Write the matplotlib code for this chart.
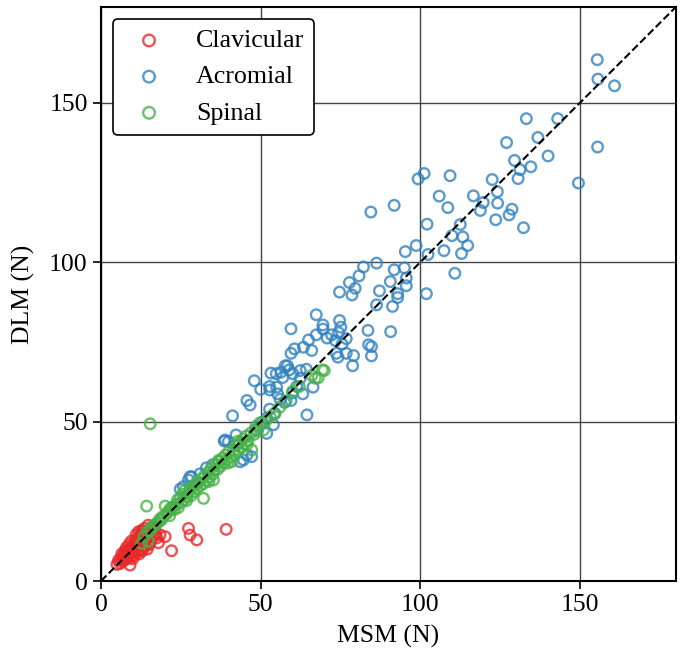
import matplotlib

matplotlib.use("Agg")
import matplotlib.pyplot as plt

plt.rcParams["font.family"] = ["Liberation Serif", "DejaVu Serif"]

# Clavicular (red)
clav_msm = [5.0, 5.5, 6.0, 6.3, 6.8, 7.0, 7.3, 7.6, 7.9, 8.2, 8.5, 8.7, 9.0, 9.1, 9.3,
            9.6, 9.8, 10.0, 10.2, 10.5, 10.7, 11.0, 11.2, 11.5, 11.7, 12.0, 12.2, 12.5,
            12.7, 13.0, 13.3, 13.5, 13.8, 14.0, 14.3, 14.6, 15.0, 15.3, 15.7, 16.0, 16.4,
            16.4, 17.0, 18.0, 20.1, 22.1, 27.4, 27.9, 30.0, 39.2, 10.0, 12.0, 13.0, 11.0,
            8.0, 9.5, 14.5, 15.5, 17.5, 6.5, 7.5, 8.8, 10.8, 11.8, 12.8, 13.6, 14.8, 16.8,
            18.5, 9.2, 10.3, 11.4, 12.4, 13.4, 15.2]
clav_dlm = [5.2, 6.5, 5.5, 7.0, 6.2, 8.0, 7.0, 8.5, 6.8, 9.0, 7.8, 9.8, 8.5, 5.0, 10.2,
            9.0, 11.0, 9.5, 10.8, 12.0, 9.8, 11.2, 12.8, 10.5, 13.5, 11.8, 14.5, 12.5,
            10.0, 13.8, 15.0, 12.0, 14.5, 11.0, 15.5, 13.5, 16.0, 14.2, 15.5, 17.0, 13.9,
            16.5, 15.0, 12.0, 13.9, 9.5, 16.5, 14.4, 12.9, 16.2, 7.0, 8.5, 9.5, 14.5,
            10.5, 12.5, 10.0, 12.5, 13.5, 8.5, 9.5, 11.5, 13.0, 15.5, 15.8, 16.5, 17.5,
            16.0, 14.5, 7.5, 8.0, 9.0, 10.0, 11.0, 11.5]

# Acromial (blue)
acro_msm = [155.4, 155.6, 160.8, 133.2, 143.0, 136.8, 127.0, 155.5, 140.0, 129.5, 134.6,
            131.2, 130.6, 149.5, 122.5, 101.2, 99.3, 109.3, 105.9, 116.6, 108.6, 119.7,
            124.1, 124.2, 118.8, 128.7, 127.8, 123.6, 132.3, 84.5, 91.8, 102.1, 112.5,
            109.9, 113.3, 114.8, 112.9, 107.4, 102.4, 98.7, 95.3, 110.8, 101.9, 86.3,
            82.2, 91.8, 95.0, 80.8, 79.6, 90.6, 95.6, 95.6, 87.2, 92.9, 92.9, 86.3, 91.3,
            78.6, 77.8, 74.7,
            67.4, 59.5, 69.5, 69.5, 74.7, 75.1, 74.4, 83.6, 90.7, 67.4, 70.8, 72.2, 76.8,
            73.4, 75.5, 65.0, 63.4, 66.0, 60.6, 59.5, 73.7, 74.2, 76.8, 79.1, 84.7, 84.7,
            83.8, 78.8, 58.4, 57.7, 58.9, 60.1, 62.4, 64.3, 53.2, 54.9, 56.9, 56.4, 48.0,
            50.0, 52.8, 52.9, 55.0, 55.3, 62.4, 61.3, 63.2, 66.4, 45.7, 46.7, 56.1, 59.5,
            64.5, 41.2, 42.3, 38.6, 39.9, 52.8, 54.3,
            51.9, 54.0, 51.9, 45.7, 47.2, 43.6, 44.6, 38.9, 28.4, 27.4, 25.8, 27.9, 31.0,
            24.8, 48.5, 50.5, 57.5, 60.0, 35.0, 33.0, 42.0]
acro_dlm = [163.5, 157.4, 155.3, 145.0, 145.0, 139.1, 137.5, 136.1, 133.3, 131.9, 129.9,
            129.0, 126.2, 124.8, 125.9, 127.8, 126.1, 127.1, 120.7, 120.8, 117.1, 118.7,
            122.1, 118.5, 116.2, 116.6, 114.8, 113.3, 110.8, 115.7, 117.8, 111.9, 111.8,
            108.3, 107.9, 105.2, 102.7, 103.6, 102.4, 105.2, 103.3, 96.5, 90.1, 99.7,
            98.5, 97.6, 98.2, 95.7, 91.8, 93.9, 95.0, 92.6, 91.0, 90.1, 88.9, 86.6, 86.1,
            89.7, 93.6, 90.6,
            83.5, 79.1, 80.3, 79.0, 81.7, 79.6, 77.9, 78.6, 78.2, 77.2, 76.2, 77.2, 76.0,
            75.4, 74.3, 75.6, 73.3, 72.3, 72.8, 71.4, 71.4, 70.2, 71.4, 70.7, 73.5, 70.6,
            74.1, 67.5, 67.5, 67.5, 66.2, 65.0, 66.0, 66.4, 65.2, 65.0, 63.8, 65.5, 62.8,
            60.1, 61.0, 59.9, 60.8, 58.7, 63.6, 61.0, 58.7, 60.8, 56.6, 55.2, 57.0, 56.6,
            52.1, 51.8, 45.8, 43.9, 43.7, 53.9, 52.6,
            51.1, 49.0, 46.3, 39.5, 39.0, 37.4, 38.0, 44.2, 32.7, 31.7, 29.6, 32.7, 33.6,
            28.8, 47.5, 49.8, 56.0, 59.0, 36.5, 35.5, 42.5]

# Spinal (green)
spin_msm = [15.4, 14.3, 12.7, 14.8, 13.5, 14.5, 15.5, 16.0, 17.0, 17.4, 18.0, 18.5, 19.0,
            19.5, 20.1, 20.5, 21.0, 21.5, 22.0, 22.5, 23.0, 23.5, 24.0, 24.2, 24.8, 25.0,
            25.5, 26.0, 26.3, 27.0, 27.5, 28.0, 28.3, 29.0, 29.5, 30.0, 30.5, 31.0, 31.5,
            32.1, 32.0, 32.5, 33.0, 33.5, 34.0, 34.5, 35.0, 35.5, 36.0, 36.5, 37.0, 37.5,
            38.0, 38.5, 39.0, 39.5, 40.0, 40.5, 41.0, 41.5, 42.0, 42.5, 43.0, 43.5, 44.0,
            44.5, 45.0, 45.5, 46.0, 47.2, 47.0, 48.0, 48.5, 49.0, 49.8, 50.9, 51.5, 53.0,
            54.5, 56.0, 62.1, 67.1, 69.9, 68.0, 69.3, 66.0, 58.0, 60.0, 35.2, 21.8, 26.8,
            29.8, 33.8, 36.8, 39.8, 42.8, 45.8]
spin_dlm = [49.3, 23.5, 11.8, 12.5, 14.0, 15.5, 15.8, 17.0, 17.5, 18.1, 18.5, 19.5, 19.2,
            20.3, 23.5, 21.0, 21.8, 20.5, 22.5, 23.2, 22.4, 24.0, 25.5, 23.0, 26.0, 24.5,
            27.2, 25.5, 28.5, 26.5, 27.8, 29.0, 26.8, 28.0, 30.2, 29.0, 31.0, 29.8, 32.0,
            25.9, 30.5, 33.2, 31.5, 34.0, 32.5, 35.5, 33.5, 34.8, 36.5, 35.0, 37.5, 36.0,
            38.5, 37.0, 39.5, 38.0, 40.5, 39.0, 37.5, 41.0, 39.5, 42.5, 41.0, 43.5, 42.0,
            44.5, 43.0, 45.5, 44.0, 41.1, 46.5, 46.0, 48.5, 47.0, 49.6, 47.4, 50.0, 51.5,
            52.5, 54.5, 61.0, 63.6, 66.0, 63.7, 66.2, 64.5, 56.5, 59.5, 31.7, 22.8, 25.2,
            30.8, 31.2, 37.8, 37.0, 43.8, 42.8]

series = [
    ("Clavicular", clav_msm, clav_dlm, "#E8282A"),
    ("Acromial", acro_msm, acro_dlm, "#3282BE"),
    ("Spinal", spin_msm, spin_dlm, "#47B247"),
]

fig = plt.figure(figsize=(6.86, 6.51), dpi=100)
ax = fig.add_axes([0.1472, 0.1075, 0.838, 0.8817])
ax.set_axisbelow(True)

for label, xs, ys, color in series:
    ax.scatter(xs, ys, s=58, facecolors="none", edgecolors=color,
               linewidths=1.7, alpha=0.8, label=label)

ax.plot([0, 180], [0, 180], "k--", lw=1.5)

ax.set_xlim(0, 180)
ax.set_ylim(0, 180)
ax.set_xticks([0, 50, 100, 150])
ax.set_yticks([0, 50, 100, 150])
ax.grid(True, color="#444444", lw=1.0)
for sp in ax.spines.values():
    sp.set_linewidth(1.5)
ax.tick_params(labelsize=18.5, length=6, width=1.2)
ax.set_xlabel("MSM (N)", fontsize=18.5, labelpad=6)
ax.set_ylabel("DLM (N)", fontsize=18.5, labelpad=10)

leg = ax.legend(loc="upper left", fontsize=18.7, frameon=True, framealpha=1,
                edgecolor="black", borderaxespad=0.45, markerscale=1.1)
leg.get_frame().set_linewidth(1.2)

fig.savefig("out.png", dpi=100)
